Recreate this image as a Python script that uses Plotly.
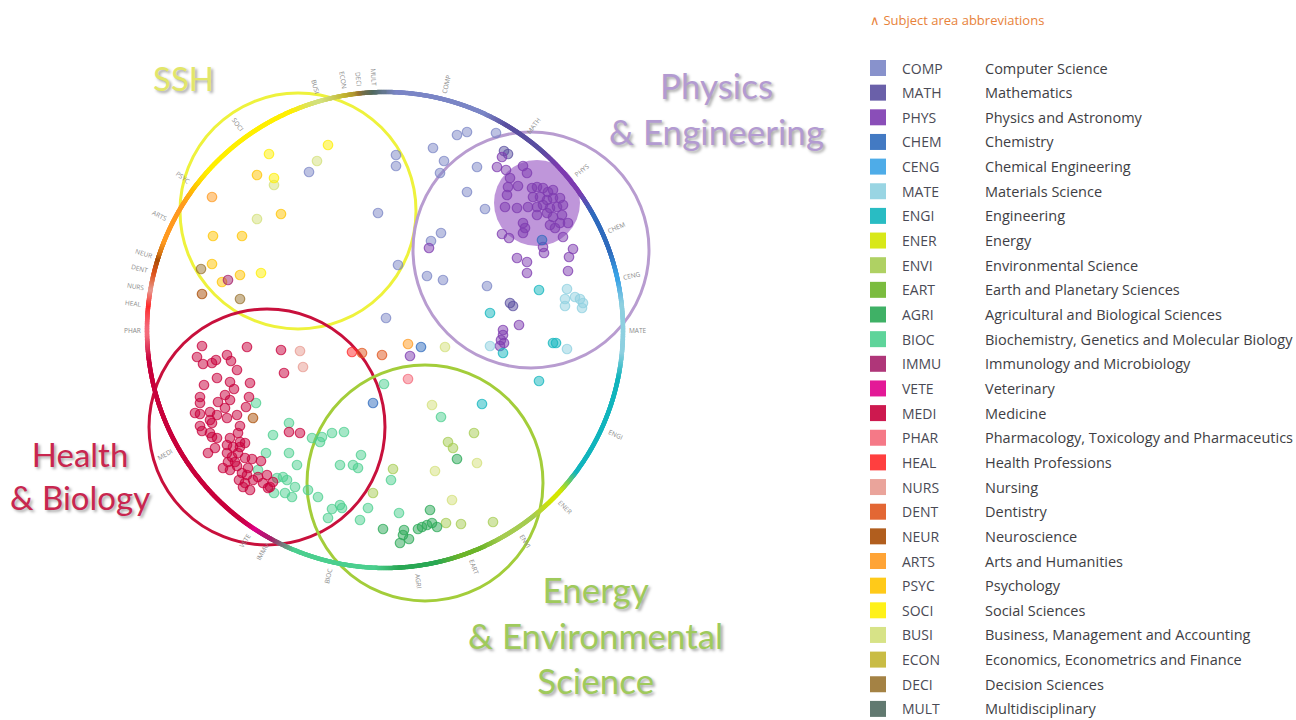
import numpy as np
import plotly.graph_objects as go

# subject areas, clockwise around the ring starting at the top
areas = ["COMP", "MATH", "PHYS", "CHEM", "CENG", "MATE", "ENGI", "ENER", "ENVI", "EART",
         "AGRI", "BIOC", "IMMU", "VETE", "MEDI", "PHAR", "HEAL", "NURS", "DENT", "NEUR",
         "ARTS", "PSYC", "SOCI", "BUSI", "ECON", "DECI", "MULT"]
area_names = ["Computer Science", "Mathematics", "Physics and Astronomy", "Chemistry",
              "Chemical Engineering", "Materials Science", "Engineering", "Energy",
              "Environmental Science", "Earth and Planetary Sciences",
              "Agricultural and Biological Sciences",
              "Biochemistry, Genetics and Molecular Biology", "Immunology and Microbiology",
              "Veterinary", "Medicine", "Pharmacology, Toxicology and Pharmaceutics",
              "Health Professions", "Nursing", "Dentistry", "Neuroscience",
              "Arts and Humanities", "Psychology", "Social Sciences",
              "Business, Management and Accounting", "Economics, Econometrics and Finance",
              "Decision Sciences", "Multidisciplinary"]
area_colors = ["#7b86c6", "#5a4fa0", "#7d3bb0", "#2f6bbd", "#3ba3e6", "#8ed0e0", "#12b5bd",
               "#d4e600", "#a6cc52", "#6db52a", "#2aa855", "#4ccf8f", "#a6206a", "#e0008c",
               "#c8003c", "#f46a7a", "#ff2a2a", "#e89a90", "#e0561e", "#a94d06", "#ff9a20",
               "#ffc400", "#ffef00", "#d3e07a", "#c3b530", "#9a7430", "#506a60"]
# share of the ring for each area, in degrees
arc_deg = [28, 16, 14, 16, 7, 18, 31, 9, 15, 11, 15, 26, 6, 3, 51, 8, 4, 4, 4, 3,
           16, 4, 31, 8, 5, 2, 5]

# publication dots, per subject area (picture coordinates)
comp_x = [396, 396, 378, 433, 444, 457, 467, 440, 467, 441, 431, 427, 443, 398, 386, 309, 477, 485, 487, 496]
comp_y = [155, 166, 213, 148, 161, 135, 132, 173, 192, 233, 241, 276, 280, 265, 318, 172, 167, 209, 286, 133]
math_x = [504, 508, 510, 513]
math_y = [151, 154, 303, 306]
phys_x = [429, 410, 502, 497, 506, 523, 527, 510, 518, 508, 507, 505, 517, 502, 509, 563, 543, 544,
          517, 527, 527, 573, 569, 568, 519, 503, 503, 501, 504, 500,
          532, 537, 543, 548, 553, 533, 540, 547, 553, 560, 528, 537, 543, 550, 557, 563,
          537, 547, 553, 562, 523, 550, 560, 568, 525, 523, 555]
phys_y = [248, 356, 157, 167, 170, 166, 173, 178, 186, 187, 195, 207, 208, 234, 238, 237, 247, 253,
          258, 262, 273, 249, 257, 271, 325, 330, 335, 340, 343, 346,
          188, 187, 188, 192, 190, 197, 197, 200, 198, 198, 207, 207, 205, 208, 207, 205,
          215, 213, 217, 215, 223, 225, 223, 223, 228, 233, 228]
chem_x = [421, 542, 373]
chem_y = [347, 240, 403]
mate_x = [567, 565, 575, 580, 565, 582, 583, 490, 567]
mate_y = [289, 299, 297, 299, 306, 308, 303, 346, 349]
engi_x = [539, 490, 503, 553, 556, 539, 482]
engi_y = [290, 313, 353, 343, 343, 381, 404]
envi_x = [474, 448, 453, 393, 493, 461, 446, 373]
envi_y = [433, 442, 448, 469, 522, 524, 523, 493]
agri_x = [457, 430, 437, 432, 427, 422, 418, 404, 403, 409, 400, 383]
agri_y = [459, 510, 527, 523, 525, 527, 529, 530, 535, 539, 543, 529]
bioc_x = [384, 441, 391, 399, 256, 289, 273, 266, 258, 289, 297, 295, 274, 285, 292, 308, 318, 312,
          322, 320, 332, 344, 340, 353, 358, 361, 368, 332, 340, 342, 328, 360, 277, 283, 287]
bioc_y = [384, 417, 480, 513, 403, 423, 435, 453, 470, 453, 465, 487, 493, 493, 497, 490, 497, 438,
          437, 442, 433, 432, 465, 465, 468, 455, 508, 509, 505, 508, 518, 520, 478, 477, 480]
busi_x = [317, 274, 257, 445, 432, 477, 435, 452]
busi_y = [161, 185, 219, 347, 405, 463, 471, 500]
soci_x = [328, 269, 274, 261]
soci_y = [145, 154, 178, 273]
psyc_x = [257, 281, 213, 242, 212, 222, 240]
psyc_y = [175, 214, 236, 236, 264, 282, 275]
arts_x = [212, 408]
arts_y = [197, 344]
deci_x = [201, 240]
deci_y = [269, 299]
neur_x = [202, 253]
neur_y = [294, 418]
dent_x = [382, 362]
dent_y = [355, 353]
heal_x = [352]
heal_y = [352]
nurs_x = [300, 303]
nurs_y = [351, 367]
phar_x = [408]
phar_y = [379]
immu_x = [228]
immu_y = [280]
medi_x = [281, 284, 247, 202, 197, 203, 212, 216, 227, 231, 237, 217, 230, 250, 204, 200, 200, 225,
          234, 218, 249, 246, 195, 200, 210, 217, 210, 212, 227, 225, 230, 237, 240, 200, 202, 210,
          212, 217, 230, 238, 240, 300, 289, 208, 215, 227, 233, 240, 245, 227, 232, 228, 238, 245,
          235, 223, 230, 237, 242, 248, 247, 252, 261, 239, 245, 250, 243, 253, 258, 263, 267, 270,
          273, 268]
medi_y = [350, 373, 347, 346, 357, 364, 363, 360, 355, 361, 370, 378, 382, 383, 385, 397, 403, 395,
          389, 402, 397, 407, 413, 414, 412, 415, 420, 423, 418, 408, 400, 415, 426, 426, 431, 433,
          437, 438, 438, 433, 442, 433, 432, 453, 448, 445, 447, 447, 443, 453, 457, 462, 453, 458,
          462, 468, 470, 466, 473, 468, 475, 459, 461, 480, 483, 490, 487, 480, 477, 483, 475, 487,
          482, 488]

dots = {"COMP": (comp_x, comp_y), "MATH": (math_x, math_y), "PHYS": (phys_x, phys_y),
        "CHEM": (chem_x, chem_y), "MATE": (mate_x, mate_y), "ENGI": (engi_x, engi_y),
        "ENVI": (envi_x, envi_y), "AGRI": (agri_x, agri_y), "BIOC": (bioc_x, bioc_y),
        "BUSI": (busi_x, busi_y), "SOCI": (soci_x, soci_y), "PSYC": (psyc_x, psyc_y),
        "ARTS": (arts_x, arts_y), "DECI": (deci_x, deci_y), "NEUR": (neur_x, neur_y),
        "DENT": (dent_x, dent_y), "HEAL": (heal_x, heal_y), "NURS": (nurs_x, nurs_y),
        "PHAR": (phar_x, phar_y), "IMMU": (immu_x, immu_y), "MEDI": (medi_x, medi_y)}


def hex2rgb(h):
    h = h.lstrip("#")
    return np.array([int(h[i:i + 2], 16) for i in (0, 2, 4)], dtype=float)


def rgba(h, a):
    r, g, b = hex2rgb(h)
    return f"rgba({int(r)},{int(g)},{int(b)},{a})"


CX, CY, R = 385, 330, 238
n = len(areas)
color_of = dict(zip(areas, area_colors))

fig = go.Figure()

# coloured ring, blended a little at the borders between areas
bounds = np.concatenate([[0], np.cumsum(arc_deg)])
theta = np.linspace(0, 360, 2400, endpoint=False)
ring_cols = []
for t in theta:
    i = min(np.searchsorted(bounds, t, side="right") - 1, n - 1)
    lo, hi = bounds[i], bounds[i + 1]
    blend = min(3.0, (hi - lo) / 2)
    c = hex2rgb(area_colors[i])
    if t - lo < blend:
        w = 0.5 * (1 - (t - lo) / blend)
        c = (1 - w) * c + w * hex2rgb(area_colors[(i - 1) % n])
    elif hi - t < blend:
        w = 0.5 * (1 - (hi - t) / blend)
        c = (1 - w) * c + w * hex2rgb(area_colors[(i + 1) % n])
    ring_cols.append("rgb(%d,%d,%d)" % tuple(c.astype(int)))
fig.add_trace(go.Scatter(x=CX + R * np.sin(np.radians(theta)), y=CY - R * np.cos(np.radians(theta)),
                         mode="markers", marker=dict(size=4.5, color=ring_cols, line=dict(width=0)),
                         hoverinfo="skip", showlegend=False))

# ring labels
annotations = []
mids = (bounds[:-1] + bounds[1:]) / 2
for ab, m in zip(areas, mids):
    ang = m - 90 if m < 180 else m - 270
    annotations.append(dict(x=CX + (R + 15) * np.sin(np.radians(m)), y=CY - (R + 15) * np.cos(np.radians(m)),
                            text=ab, showarrow=False, textangle=ang,
                            font=dict(size=6.5, color="#8a8a8a", family="Open Sans")))

# group circles
shapes = []
groups = [(298, 211, "#eef23c"), (531, 250, "#b89cd0"), (267, 427, "#c8103c"), (425, 483, "#a3cd3a")]
for gx, gy, gc in groups:
    shapes.append(dict(type="circle", xref="x", yref="y", x0=gx - 118, x1=gx + 118, y0=gy - 118, y1=gy + 118,
                       line=dict(color=gc, width=3), layer="below"))
shapes.append(dict(type="circle", xref="x", yref="y", x0=537 - 43, x1=537 + 43, y0=203 - 43, y1=203 + 43,
                   fillcolor="rgba(160,100,200,0.68)", line=dict(width=0), layer="below"))

# dots
for ab, (xs, ys) in dots.items():
    c = color_of[ab]
    fig.add_trace(go.Scatter(x=xs, y=ys, mode="markers", name=ab, showlegend=False,
                             marker=dict(size=9.5, color=rgba(c, 0.5), line=dict(color=rgba(c, 0.75), width=1.2))))

# group titles
shadow = "2px 2px 3px rgba(0,0,0,0.35)"
titles = [("SSH", 183, 78, "#e2e66a", 33), ("Physics<br>& Engineering", 716, 108, "#b39bd1", 35),
          ("Health<br>& Biology", 80, 475, "#c8264f", 33),
          ("Energy<br>& Environmental<br>Science", 595, 634, "#9fca5c", 35)]
for txt, tx, ty, tc, ts in titles:
    annotations.append(dict(x=tx, y=ty, text=txt, showarrow=False, align="center",
                            font=dict(size=ts, color=tc, family="Lato", shadow=shadow)))

# legend
annotations.append(dict(x=868, y=20, text="∧ Subject area abbreviations", showarrow=False, xanchor="left",
                        font=dict(size=13, color="#e8823a", family="Open Sans")))
row_y = [68 + 24.65 * i for i in range(n)]
fig.add_trace(go.Scatter(x=[878] * n, y=row_y, mode="markers", showlegend=False, hoverinfo="skip",
                         marker=dict(symbol="square", size=16, color=area_colors, opacity=0.9)))
for ab, nm, yy in zip(areas, area_names, row_y):
    annotations.append(dict(x=900, y=yy, text=ab, showarrow=False, xanchor="left",
                            font=dict(size=14, color="#4a4a55", family="Open Sans")))
    annotations.append(dict(x=983, y=yy, text=nm, showarrow=False, xanchor="left",
                            font=dict(size=14.5, color="#3e3e44", family="Open Sans")))

fig.update_layout(width=1296, height=720, margin=dict(l=0, r=0, t=0, b=0),
                  paper_bgcolor="white", plot_bgcolor="white",
                  shapes=shapes, annotations=annotations, showlegend=False)
fig.update_xaxes(range=[0, 1296], visible=False)
fig.update_yaxes(range=[720, 0], visible=False)

# the page's default body margin would push the 1296x720 figure off screen
fig.write_html("out.html", config={"displayModeBar": False},
               post_script="document.body.style.margin='0';document.body.style.overflow='hidden';")
